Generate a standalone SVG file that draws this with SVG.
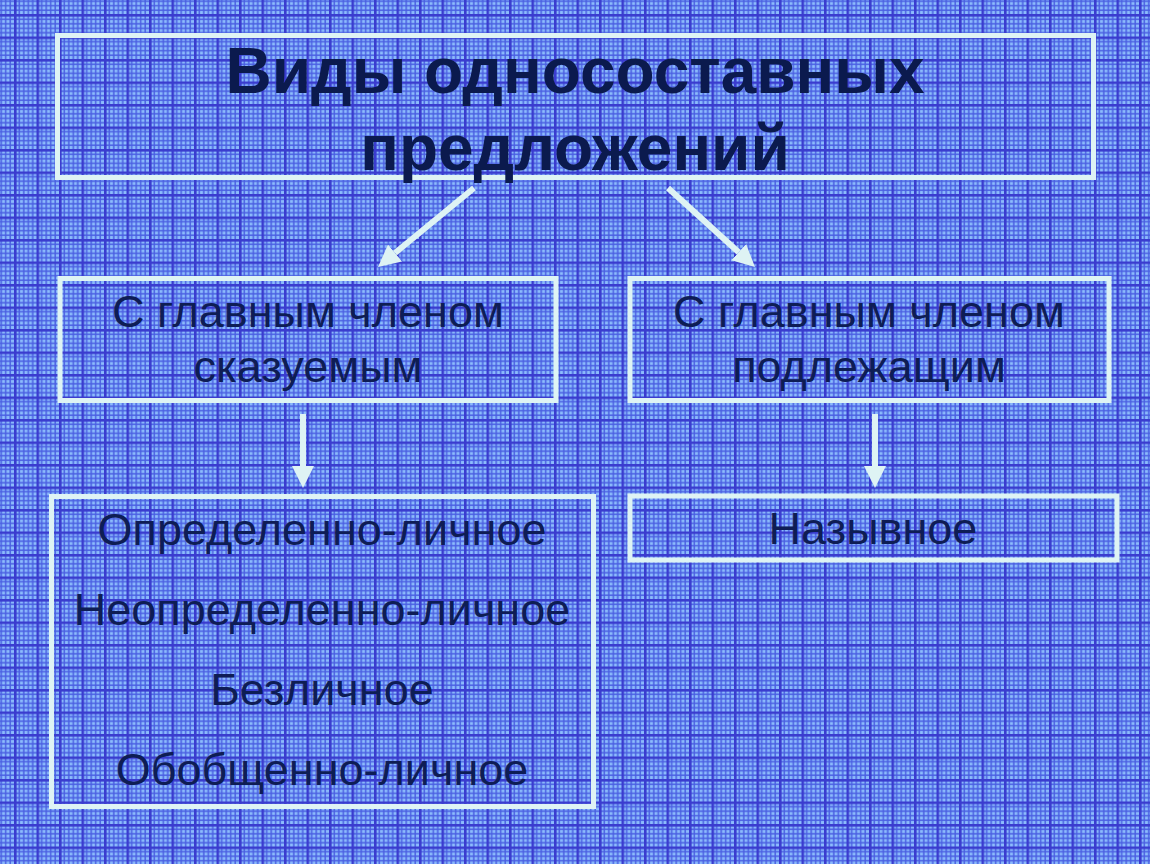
<svg xmlns="http://www.w3.org/2000/svg" width="1150" height="864" viewBox="0 0 1150 864">
  <style>
    .box { fill: none; stroke: #def3f4; stroke-width: 5; }
    .title { font-family: "Liberation Sans", Arial, sans-serif; font-weight: bold; font-size: 64px; fill: #0b1a4e; text-anchor: middle; }
    .lbl { font-family: "Liberation Sans", Arial, sans-serif; font-size: 45px; fill: #0e1d55; text-anchor: middle; }
    .conn { stroke: #def3f4; stroke-width: 6; fill: none; }
  </style>
  <defs>
    <pattern id="grid" width="22.5" height="22.5" patternUnits="userSpaceOnUse" patternTransform="translate(14 14)">
      <rect width="22.5" height="22.5" fill="#8cbcfc"/>
      <g fill="#4a5fe2">
        <rect x="4.5" y="0" width="1.5" height="22.5"/>
        <rect x="9" y="0" width="1.5" height="22.5"/>
        <rect x="13.5" y="0" width="1.5" height="22.5"/>
        <rect x="18" y="0" width="1.5" height="22.5"/>
        <rect x="0" y="4.5" width="22.5" height="1.5"/>
        <rect x="0" y="9" width="22.5" height="1.5"/>
        <rect x="0" y="13.5" width="22.5" height="1.5"/>
        <rect x="0" y="18" width="22.5" height="1.5"/>
      </g>
      <g fill="#3a3ccf">
        <rect x="0" y="0" width="2.6" height="22.5"/>
        <rect x="0" y="0" width="22.5" height="2.6"/>
      </g>
    </pattern>
    <marker id="ah" markerUnits="userSpaceOnUse" markerWidth="24" markerHeight="22" refX="0" refY="11" orient="auto">
      <path d="M0,0 L22,11 L0,22 Z" fill="#def3f4"/>
    </marker>
  </defs>

  <rect width="1150" height="864" fill="url(#grid)"/>

  <g id="connectors">
    <line class="conn" x1="474" y1="188" x2="395" y2="253" marker-end="url(#ah)"/>
    <line class="conn" x1="668" y1="188" x2="738.7" y2="252.2" marker-end="url(#ah)"/>
    <line class="conn" x1="303" y1="414" x2="303" y2="466" marker-end="url(#ah)"/>
    <line class="conn" x1="875" y1="414" x2="875" y2="466" marker-end="url(#ah)"/>
  </g>

  <g id="title">
    <rect class="box" x="57.5" y="35.5" width="1036" height="142"/>
    <text class="title" x="575" y="93">Виды односоставных</text>
    <text class="title" x="575" y="170">предложений</text>
  </g>

  <g id="predicate">
    <rect class="box" x="60" y="278.5" width="496" height="122"/>
    <text class="lbl" x="308" y="327">С главным членом</text>
    <text class="lbl" x="308" y="382">сказуемым</text>
  </g>

  <g id="subject">
    <rect class="box" x="630" y="278.5" width="479" height="122"/>
    <text class="lbl" x="869" y="327">С главным членом</text>
    <text class="lbl" x="869" y="382">подлежащим</text>
  </g>

  <g id="predicate-types">
    <rect class="box" x="51.5" y="496.5" width="542" height="310"/>
    <text class="lbl" x="322" y="545">Определенно-личное</text>
    <text class="lbl" x="322" y="625">Неопределенно-личное</text>
    <text class="lbl" x="322" y="705">Безличное</text>
    <text class="lbl" x="322" y="785">Обобщенно-личное</text>
  </g>

  <g id="subject-types">
    <rect class="box" x="630" y="496" width="487" height="64"/>
    <text class="lbl" x="873" y="544">Назывное</text>
  </g>
</svg>
